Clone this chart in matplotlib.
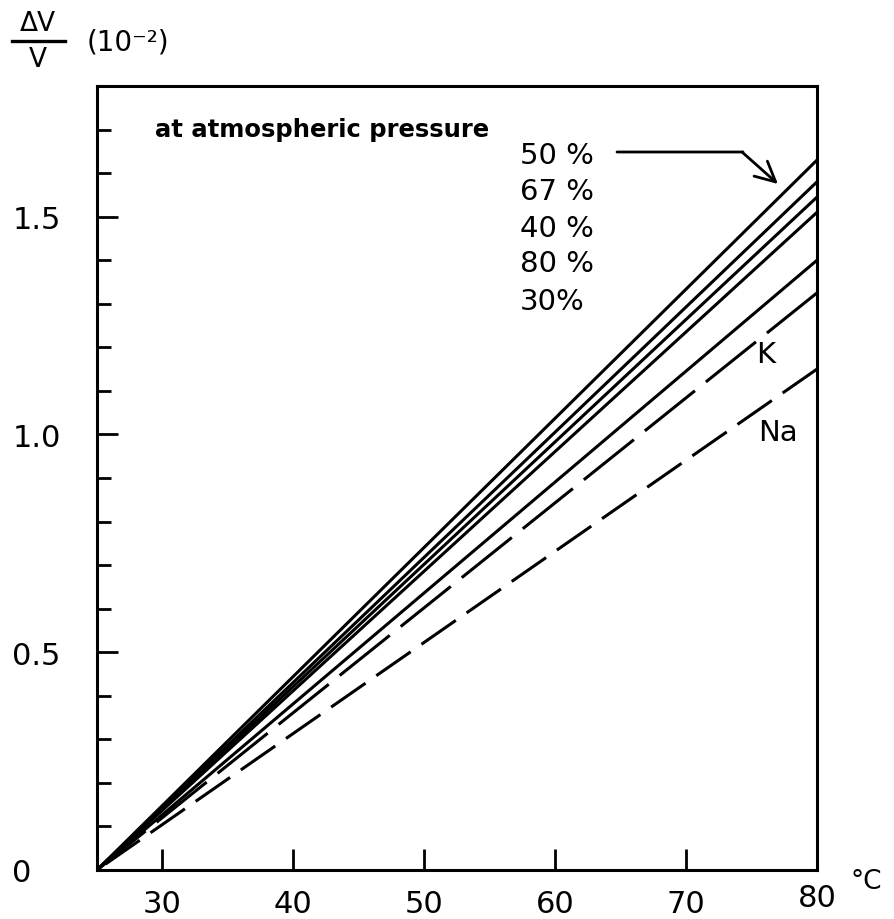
import matplotlib
matplotlib.use("Agg")
import matplotlib.pyplot as plt
import numpy as np

# ---- data ----
temps = [25, 80]
series_labels = ["50 %", "67 %", "40 %", "80 %", "30%"]
series_values = {
    "50 %": [0.0, 1.63],
    "67 %": [0.0, 1.58],
    "40 %": [0.0, 1.545],
    "80 %": [0.0, 1.51],
    "30%": [0.0, 1.40],
}
k_values = [0.0, 1.325]
na_values = [0.0, 1.15]
x_ticks = [30, 40, 50, 60, 70, 80]
x_ticklabels = ["30", "40", "50", "60", "70", "80"]
y_major = [0.0, 0.5, 1.0, 1.5]
y_major_labels = ["0", "0.5", "1.0", "1.5"]
y_minor = [0.1, 0.2, 0.3, 0.4, 0.6, 0.7, 0.8, 0.9, 1.1, 1.2, 1.3, 1.4, 1.6, 1.7]

plt.rcParams['font.family'] = ['DejaVu Sans']
W, H = 895, 920
fig = plt.figure(figsize=(W / 100, H / 100), dpi=100)
ax = fig.add_axes([97 / W, 49 / H, 720 / W, 784 / H])

lw = 2.2
for lab in series_labels:
    ax.plot(temps, series_values[lab], color='black', lw=lw, solid_capstyle='butt')
# dashed lines drawn from the right end so that the last dash meets the frame
ax.plot(temps[::-1], k_values[::-1], color='black', lw=lw, linestyle=(0, (21, 4.6)),
        dash_capstyle='butt')
ax.plot(temps[::-1], na_values[::-1], color='black', lw=lw, linestyle=(0, (13.7, 4.3)),
        dash_capstyle='butt')

ax.set_xlim(25, 80)
ax.set_ylim(0, 1.8)

for s in ax.spines.values():
    s.set_linewidth(2.2)

ax.set_xticks(x_ticks[:-1])
ax.set_xticklabels(x_ticklabels[:-1])
ax.tick_params(axis='x', direction='in', length=15, width=2, pad=14, labelsize=22)
ax.set_yticks(y_major)
ax.set_yticklabels(y_major_labels)
ax.set_yticks(y_minor, minor=True)
ax.tick_params(axis='y', which='major', direction='in', length=15, width=2, pad=61, labelsize=22)
ax.tick_params(axis='y', which='minor', direction='in', length=10, width=2)
for t in ax.get_yticklabels():
    t.set_horizontalalignment('left')

# 80 label at the right edge and the unit
ax.text(80, -0.03, x_ticklabels[-1], transform=ax.transData, ha='center', va='top', fontsize=22)
fig.text(866 / W, (920 - 882) / H, "°C", ha='center', va='center', fontsize=19)

# y-axis label: fraction ΔV / V (10^-2)
fig.text(38 / W, (920 - 24) / H, "ΔV", ha='center', va='center', fontsize=19)
fig.add_artist(plt.Line2D([12 / W, 65 / W], [(920 - 42) / H] * 2, color='black', lw=2.4))
fig.text(38 / W, (920 - 60) / H, "V", ha='center', va='center', fontsize=19)
fig.text(87 / W, (920 - 42) / H, "(10⁻²)", ha='left', va='center', fontsize=20)

# annotations
fig.text(155 / W, (920 - 130) / H, "at atmospheric pressure", ha='left', va='center',
         fontsize=17.5, fontweight='bold')
ypos = [156, 192, 229, 264, 302]
for lab, yp in zip(series_labels, ypos):
    fig.text(520 / W, (920 - yp) / H, lab, ha='left', va='center', fontsize=21)
fig.text(766 / W, (920 - 355) / H, "K", ha='center', va='center', fontsize=21)
fig.text(778 / W, (920 - 433) / H, "Na", ha='center', va='center', fontsize=21)

# arrow from 50% label to its line
ax.annotate('', xy=(743, 920 - 153), xytext=(617, 920 - 153), xycoords='figure pixels',
            textcoords='figure pixels', arrowprops=dict(arrowstyle='-', lw=2, color='black',
                                                        shrinkA=0, shrinkB=0))
ax.annotate('', xy=(778, 920 - 185), xytext=(742, 920 - 153), xycoords='figure pixels',
            textcoords='figure pixels',
            arrowprops=dict(arrowstyle='->,head_length=0.8,head_width=0.4', lw=2, color='black',
                            shrinkA=0, shrinkB=0, mutation_scale=18))

fig.savefig("out.png", dpi=100)
